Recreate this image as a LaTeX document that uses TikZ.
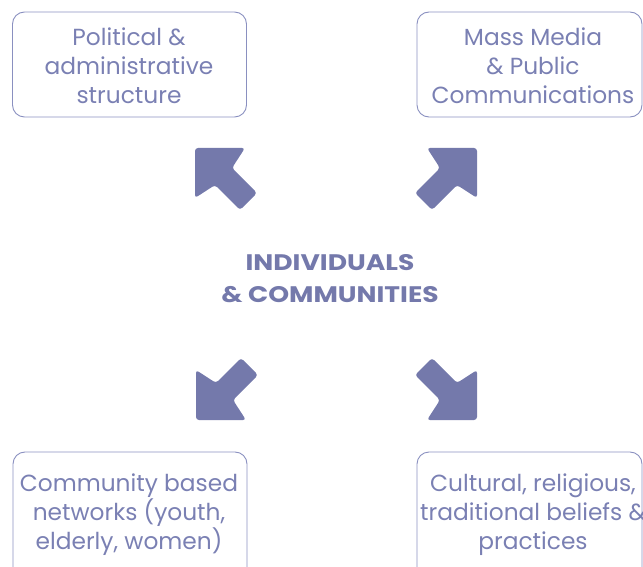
\documentclass[tikz,border=0pt]{standalone}
\usepackage{fontspec}
\setmainfont{Poppins}
\newfontfamily\ctrfont{Poppins}[FakeStretch=1.18]
\definecolor{arrowc}{HTML}{7479AB}
\definecolor{textc}{HTML}{7A80B3}
\definecolor{linec}{HTML}{8A90C0}
\begin{document}
\begin{tikzpicture}[x=1pt,y=-1pt,
  box/.style={draw=linec, line width=0.9pt, rounded corners=12pt},
  lbl/.style={text=textc, align=center, font=\fontsize{23.3}{29}\selectfont, inner sep=0pt},
  ctr/.style={text=arrowc, align=center, font=\ctrfont\fontsize{22.5}{32}\selectfont\bfseries, inner sep=0pt},
  arr/.style={fill=arrowc, rounded corners=3pt}]
\useasboundingbox (0,0) rectangle (643,567);
\clip (0,0) rectangle (643,567);
% boxes
\node[box, minimum width=234pt, minimum height=105pt] (b1) at (129.5,64.5) {};
\node[box, minimum width=225pt, minimum height=105pt] (b2) at (529.5,64.5) {};
\node[box, minimum width=234pt, minimum height=150pt] (b3) at (130,527) {};
\node[box, minimum width=225pt, minimum height=150pt] (b4) at (529.5,527) {};
% labels
\node[lbl] (t1) at (129,66) {Political \&\\administrative\\structure};
\node[lbl] (t2) at (533,66) {Mass Media\\\& Public\\Communications};
\node[lbl] (t3) at (129,515) {Community based\\networks (youth,\\elderly, women)};
\node[lbl] (t4) at (533,515) {Cultural, religious,\\traditional beliefs \&\\practices};
\node[ctr] (c) at (330,279) {INDIVIDUALS\\\& COMMUNITIES};
% arrows
\fill[arr, shift={(195,148)}] (0,0) -- (50,0) -- (37,20) -- (62,45) -- (45,62) -- (20,37) -- (0,50) -- cycle;
\fill[arr, shift={(477,148)}, xscale=-1] (0,0) -- (50,0) -- (37,20) -- (62,45) -- (45,62) -- (20,37) -- (0,50) -- cycle;
\fill[arr, shift={(196,420)}, yscale=-1] (0,0) -- (50,0) -- (37,20) -- (62,45) -- (45,62) -- (20,37) -- (0,50) -- cycle;
\fill[arr, shift={(477,420)}, xscale=-1, yscale=-1] (0,0) -- (50,0) -- (37,20) -- (62,45) -- (45,62) -- (20,37) -- (0,50) -- cycle;
\end{tikzpicture}
\end{document}
